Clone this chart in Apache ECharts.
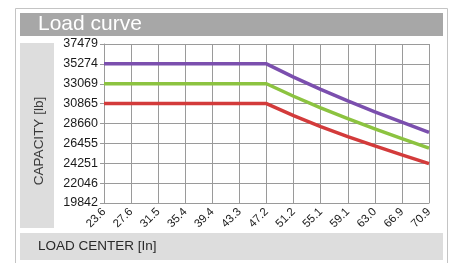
<!DOCTYPE html>
<html>
<head>
<meta charset="utf-8">
<script src="https://cdn.jsdelivr.net/npm/echarts@6/dist/echarts.min.js"></script>
<style>
html,body{margin:0;padding:0;background:#fff;}
#main{width:453px;height:263px;}
</style>
</head>
<body>
<div id="main"></div>
<script>
// load centre (in) on x, capacity (lb) on y
var xLabels = ["23.6","27.6","31.5","35.4","39.4","43.3","47.2","51.2","55.1","59.1","63.0","66.9","70.9"];
var yLabels = ["19842","22046","24251","26455","28660","30865","33069","35274","37479"];
var LB_STEP = 2204.6226; // 1000 kg in lb
var purple = [35274,35274,35274,35274,35274,35274,35274,33807,32443,31167,29958,28805,27684];
var green  = [33069,33069,33069,33069,33069,33069,33069,31683,30396,29198,28067,26980,25937];
var red    = [30865,30865,30865,30865,30865,30865,30865,29537,28317,27207,26176,25177,24212];

var chart = echarts.init(document.getElementById('main'));
var font = 'Liberation Sans, Arial, sans-serif';

function line(name, data, color){
	return {
		name: name, type: 'line', data: data, symbol: 'none',
		lineStyle: {color: color, width: 3.5}, itemStyle: {color: color}, z: 5
	};
}

chart.setOption({
	animation: false,
	backgroundColor: '#fff',
	grid: {left: 104, right: 24, top: 44, bottom: 60},
	graphic: [
		// frame
		{type:'rect', shape:{x:15.5,y:8.5,width:432,height:260}, style:{fill:'none',stroke:'#c4c4c4',lineWidth:1}, z:-10},
		{type:'rect', shape:{x:20,y:13,width:423,height:23}, style:{fill:'#a7a7a7'}, z:-9},
		{type:'text', left:38, top:14, style:{text:'Load curve', fill:'#fff', font:'21px ' + font}, z:-8},
		{type:'rect', shape:{x:20,y:43,width:34,height:185}, style:{fill:'#dddddd'}, z:-9},
		{type:'text', x:39, y:141, rotation:Math.PI/2, style:{text:'CAPACITY [lb]', fill:'#3a3a3a', font:'13.5px ' + font, align:'center', verticalAlign:'middle'}, z:-8},
		{type:'rect', shape:{x:20,y:233,width:423,height:27}, style:{fill:'#dddddd'}, z:-9},
		{type:'text', x:38, y:246, style:{text:'LOAD CENTER [In]', fill:'#2a2a2a', font:'13.5px ' + font, verticalAlign:'middle'}, z:-8}
	],
	xAxis: {
		type: 'category', data: xLabels, boundaryGap: false,
		axisLine: {lineStyle: {color: '#9a9a9a', width: 1}},
		axisTick: {show: false},
		axisLabel: {rotate: 45, margin: 7, color: '#1a1a1a', fontSize: 11.5, fontFamily: font, interval: 0},
		splitLine: {show: true, lineStyle: {color: '#9a9a9a', width: 1}}
	},
	yAxis: {
		type: 'value', min: 9 * LB_STEP, max: 17 * LB_STEP, interval: LB_STEP,
		axisLine: {show: true, lineStyle: {color: '#9a9a9a', width: 1}},
		axisTick: {show: true, length: 4, lineStyle: {color: '#9a9a9a'}},
		axisLabel: {
			margin: 6, color: '#1a1a1a', fontSize: 12.5, fontFamily: font,
			formatter: function(v){
				var i = Math.round(v / LB_STEP) - 9;
				return yLabels[i] !== undefined ? yLabels[i] : '';
			}
		},
		splitLine: {show: true, lineStyle: {color: '#9a9a9a', width: 1}}
	},
	series: [
		line('purple', purple, '#7b4fae'),
		line('green', green, '#8cc340'),
		line('red', red, '#d33b3b')
	]
});
</script>
</body>
</html>
